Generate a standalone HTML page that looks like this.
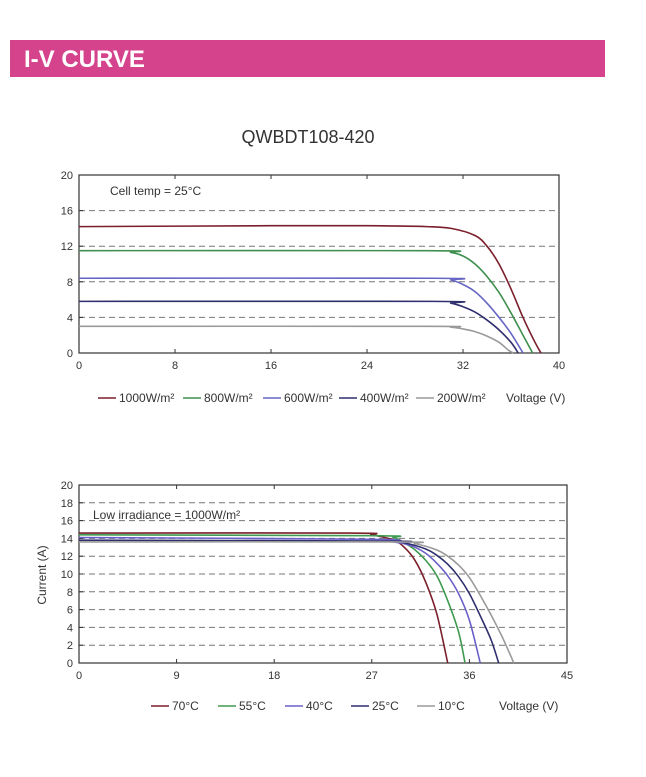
<!DOCTYPE html>
<html><head><meta charset="utf-8"><style>
body{margin:0;background:#fff;width:646px;height:777px;overflow:hidden;font-family:"Liberation Sans",sans-serif}
svg{position:absolute;left:0;top:0}
</style></head><body>
<svg id="s" width="646" height="777">
<rect x="10" y="40" width="595" height="37" fill="#D5438D"/>
<text x="24" y="67" fill="#fff" font-size="24" font-weight="bold">I-V CURVE</text>
<text x="308" y="143" text-anchor="middle" font-size="18" fill="#333">QWBDT108-420</text>
</svg>
<script>
// Chart 1 data
const c1Labels=["1000W/m²","800W/m²","600W/m²","400W/m²","200W/m²"];
const c1V=[
[0,16,24,29,31,33,34,35,36,37,38,38.5],
[0,29,31,32,33,34,35,36,37,37.8],
[0,29.5,31,32,33,34,35,36,37],
[0,29.5,31,32,33,34,35,36,36.6],
[0,29,31,32,33,34,35,35.8,36.2]];
const c1I=[
[14.2,14.3,14.3,14.2,14.0,13.2,12,10,7.2,4,1.2,0],
[11.5,11.5,11.3,10.9,10,8.6,6.8,4.5,2,0],
[8.4,8.4,8.2,7.7,6.9,5.6,4,2.2,0],
[5.8,5.8,5.6,5.2,4.6,3.7,2.6,1.2,0],
[3.0,3.0,2.9,2.7,2.4,1.9,1.2,0.3,0]];
const c1XTicks=[0,8,16,24,32,40];
const c1YTicks=[0,4,8,12,16,20];
// Chart 2 data
const c2Labels=["70°C","55°C","40°C","25°C","10°C"];
const c2V=[
[0,25,27,29,30,31,32,33,34],
[0,27,29,30,31,32,33,34,35,35.6],
[0,27,29,30,31,32,33,34,35,36,37],
[0,28,30,32,33,34,35,36,37,38,38.7],
[0,29,31,33,34,35,36,37,38,39,40.1]];
const c2I=[
[14.6,14.6,14.4,13.8,13,11.5,9,5.5,0],
[14.4,14.3,14.1,13.5,12.7,11.5,9.8,7,3.5,0],
[14.1,13.9,13.6,13.4,13,12.3,11.2,9.8,7.8,4.8,0],
[13.8,13.7,13.5,12.8,12.1,11.1,9.7,7.8,5.3,2.6,0],
[13.6,13.6,13.4,12.7,12,11,9.6,7.6,5.4,3,0]];
const c2XTicks=[0,9,18,27,36,45];
const c2YTicks=[0,2,4,6,8,10,12,14,16,18,20];
const colors1=["#7a1f2b","#3f8f4f","#6565c4","#2f2f6e","#9a9a9a"];
const colors2=["#7a1f2b","#3f9a4f","#6a5fc8","#2f2f6e","#9a9a9a"];
const NS="http://www.w3.org/2000/svg",S=document.getElementById('s');
function mk(t,a,p){const e=document.createElementNS(NS,t);for(const k in a)e.setAttribute(k,a[k]);(p||S).appendChild(e);return e;}
function smooth(pts){let d="M"+pts[0][0]+","+pts[0][1];for(let i=0;i<pts.length-1;i++){const p0=pts[i-1]||pts[i],p1=pts[i],p2=pts[i+1],p3=pts[i+2]||p2;
d+=" C"+(p1[0]+(p2[0]-p0[0])/6)+","+(p1[1]+(p2[1]-p0[1])/6)+" "+(p2[0]-(p3[0]-p1[0])/6)+","+(p2[1]-(p3[1]-p1[1])/6)+" "+p2[0]+","+p2[1];}return d;}
function chart(o){
const sx=v=>o.x0+(v-o.xmin)/(o.xmax-o.xmin)*(o.x1-o.x0);
const sy=v=>o.y0-(v-0)/(o.ymax)*(o.y0-o.y1);
const g=mk('g',{});


o.grid.forEach(v=>{const l=mk('line',{x1:o.x0,x2:o.x1,y1:sy(v),y2:sy(v),stroke:'#777','stroke-dasharray':'6,4','stroke-width':1},g);

});
const f=mk('rect',{x:o.x0,y:o.y1,width:o.x1-o.x0,height:o.y0-o.y1,fill:'none',stroke:'#333','stroke-width':1.2},g);


o.xt.forEach(v=>{mk('line',{x1:sx(v),x2:sx(v),y1:o.y0,y2:o.y0-4,stroke:'#333'},g);mk('line',{x1:sx(v),x2:sx(v),y1:o.y1,y2:o.y1+4,stroke:'#333'},g);
const t=mk('text',{x:sx(v),y:o.y0+16,'text-anchor':'middle','font-size':11,fill:'#333'},g);t.textContent=v;

});
o.yt.forEach(v=>{mk('line',{x1:o.x0,x2:o.x0+4,y1:sy(v),y2:sy(v),stroke:'#333'},g);
const t=mk('text',{x:o.x0-6,y:sy(v)+4,'text-anchor':'end','font-size':11,fill:'#333'},g);t.textContent=v;

});
o.V.forEach((vs,i)=>{const pts=vs.map((v,j)=>[sx(v),sy(o.I[i][j])]);
const p=mk('path',{d:smooth(pts),fill:'none',stroke:o.col[i],'stroke-width':1.6},g);

});
const n=mk('text',{x:o.noteX,y:o.noteY,'font-size':12,fill:'#333'},g);n.textContent=o.note;


o.labels.forEach((lb,i)=>{const x=o.legX[i];
mk('line',{x1:x,x2:x+18,y1:o.legY-4,y2:o.legY-4,stroke:o.col[i],'stroke-width':1.6},g);
const t=mk('text',{x:x+21,y:o.legY,'font-size':12,fill:'#333'},g);t.textContent=lb;

});
const vt=mk('text',{x:o.vX,y:o.legY,'font-size':12,fill:'#333'},g);vt.textContent='Voltage (V)';


}
chart({name:'chart-irradiance',x0:79,x1:559,y0:353,y1:175,xmin:0,xmax:40,ymax:20,xt:c1XTicks,yt:c1YTicks,grid:[4,8,12,16],V:c1V,I:c1I,col:colors1,labels:c1Labels,
note:'Cell temp = 25°C',noteX:110,noteY:195,legX:[98,183,263,339,416],legY:402,vX:506});
chart({name:'chart-temperature',x0:79,x1:567,y0:663,y1:485,xmin:0,xmax:45,ymax:20,xt:c2XTicks,yt:c2YTicks,grid:[2,4,6,8,10,12,14,16,18],V:c2V,I:c2I,col:colors2,labels:c2Labels,
note:'Low irradiance = 1000W/m²',noteX:93,noteY:519,legX:[151,218,285,351,417],legY:710,vX:499});
const yt=mk('text',{x:0,y:0,'font-size':12,fill:'#333','text-anchor':'middle',transform:'translate(46,575) rotate(-90)'});yt.textContent='Current (A)';


</script>
</body></html>
